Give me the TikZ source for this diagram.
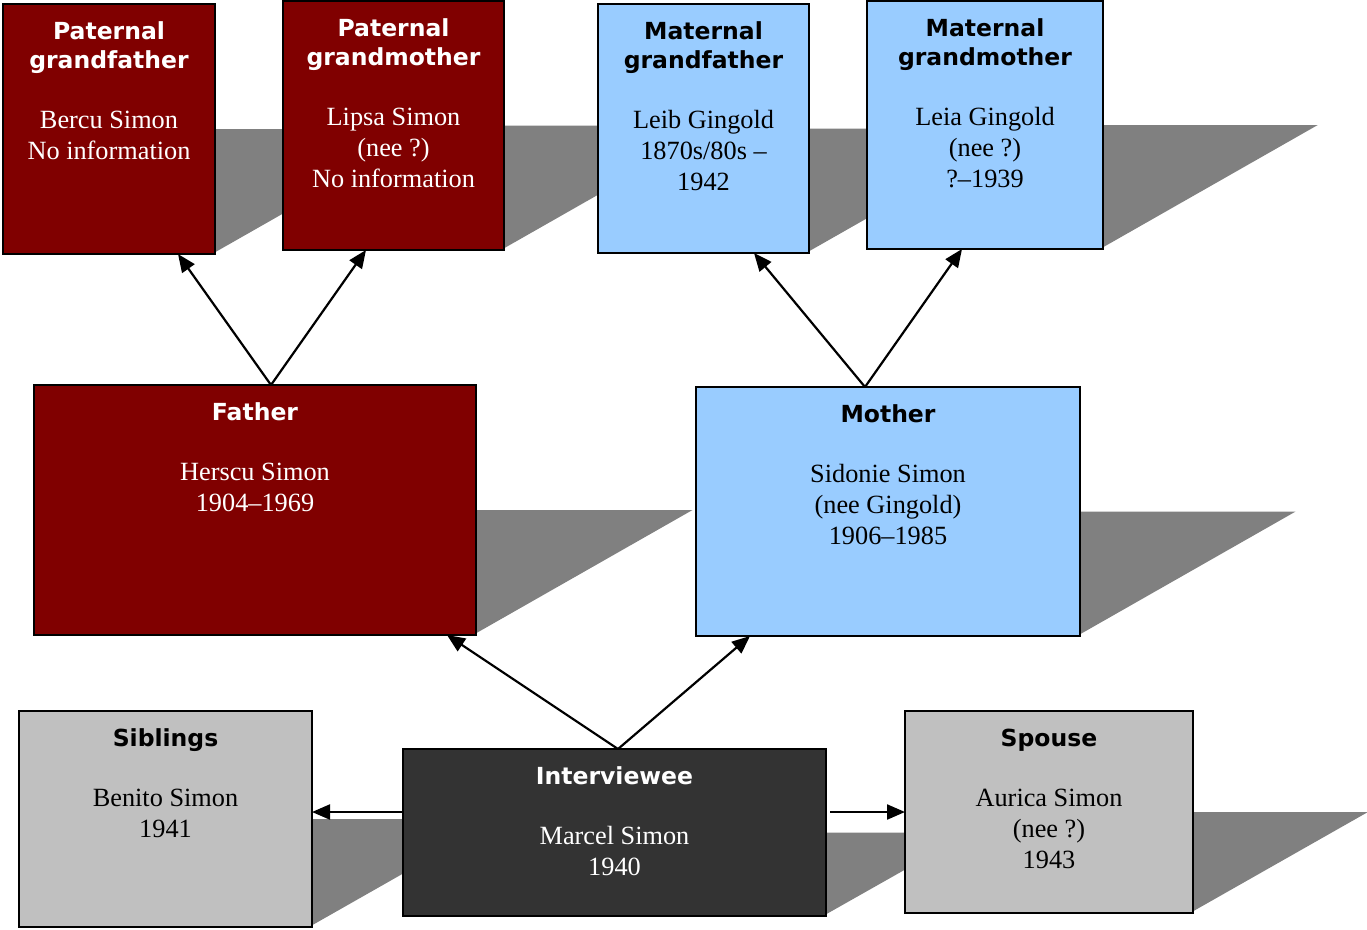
\documentclass[tikz,border=0pt]{standalone}
\usepackage{fontspec}
\setmainfont{Liberation Serif}
\newfontfamily\titlefont{DejaVu Sans}
\usetikzlibrary{calc,arrows.meta}
\definecolor{maroonc}{HTML}{800000}
\definecolor{bluec}{HTML}{99CCFF}
\definecolor{grayc}{HTML}{C0C0C0}
\definecolor{darkc}{HTML}{333333}
\definecolor{shadowc}{HTML}{808080}
\newcommand\boxshadow[1]{%
  \path let \p1=(#1.east), \p2=(#1.south east) in
    [fill=shadowc] (\x1-3pt,\y1) -- (\x1+1.732*\y1-1.732*\y2,\y1) -- (\x2-3pt,\y2) -- cycle;}
\newcommand\famlines[4]{%
  \foreach \tl [count=\i] in {#3} {
    \node[ttl, text=#2, anchor=base] (#1-t\i) at ($(#1.north)+(0,{35.5+29*\i-29})$) {\tl};
    \xdef\ntl{\i}
  }
  \foreach \bl [count=\j] in {#4} {
    \node[bdy, text=#2, anchor=base] (#1-b\j) at ($(#1.north)+(0,{95+29*\ntl-29+31*\j-31})$) {\bl};
  }
}
\begin{document}
\begin{tikzpicture}[x=1pt,y=-1pt,
  box/.style={rectangle, draw=black, line width=2pt, inner sep=0pt, outer sep=0pt},
  ttl/.style={font=\titlefont\bfseries\fontsize{23.5}{29}\selectfont, inner sep=0pt},
  bdy/.style={font=\fontsize{26.3}{31}\selectfont, inner sep=0pt},
  conn/.style={line width=2.2pt, -{Triangle[length=18pt,width=15pt]}}]
\useasboundingbox (0,0) rectangle (1367,929);
% boxes (invisible first pass for positions)
\path
  (109,129) node[box,draw=none,minimum width=212pt,minimum height=250pt] (pgf) {}
  (393.5,125.5) node[box,draw=none,minimum width=221pt,minimum height=249pt] (pgm) {}
  (703.5,128.5) node[box,draw=none,minimum width=211pt,minimum height=249pt] (mgf) {}
  (985,125) node[box,draw=none,minimum width=236pt,minimum height=248pt] (mgm) {}
  (255,510) node[box,draw=none,minimum width=442pt,minimum height=250pt] (fa) {}
  (888,511.5) node[box,draw=none,minimum width=384pt,minimum height=249pt] (mo) {}
  (165.5,819) node[box,draw=none,minimum width=293pt,minimum height=216pt] (sib) {}
  (614.5,832.5) node[box,draw=none,minimum width=423pt,minimum height=167pt] (iv) {}
  (1049,812) node[box,draw=none,minimum width=288pt,minimum height=202pt] (sp) {};
% shadows
\foreach \bx in {pgf,pgm,mgf,mgm,fa,mo,sib,iv,sp} {\boxshadow{\bx}}
% visible boxes
\node[box,fill=maroonc,minimum width=212pt,minimum height=250pt] (pgfb) at (pgf) {};
\node[box,fill=maroonc,minimum width=221pt,minimum height=249pt] (pgmb) at (pgm) {};
\node[box,fill=bluec,minimum width=211pt,minimum height=249pt] (mgfb) at (mgf) {};
\node[box,fill=bluec,minimum width=236pt,minimum height=248pt] (mgmb) at (mgm) {};
\node[box,fill=maroonc,minimum width=442pt,minimum height=250pt] (fab) at (fa) {};
\node[box,fill=bluec,minimum width=384pt,minimum height=249pt] (mob) at (mo) {};
\node[box,fill=grayc,minimum width=293pt,minimum height=216pt] (sibb) at (sib) {};
\node[box,fill=darkc,minimum width=423pt,minimum height=167pt] (ivb) at (iv) {};
\node[box,fill=grayc,minimum width=288pt,minimum height=202pt] (spb) at (sp) {};
% texts
\famlines{pgf}{white}{Paternal,grandfather}{Bercu Simon,No information}
\famlines{pgm}{white}{Paternal,grandmother}{Lipsa Simon,(nee ?),No information}
\famlines{mgf}{black}{Maternal,grandfather}{Leib Gingold,1870s/80s --,1942}
\famlines{mgm}{black}{Maternal,grandmother}{Leia Gingold,(nee ?),?--1939}
\famlines{fa}{white}{Father}{Herscu Simon,1904--1969}
\famlines{mo}{black}{Mother}{Sidonie Simon,(nee Gingold),1906--1985}
\famlines{sib}{black}{Siblings}{Benito Simon,1941}
\famlines{iv}{white}{Interviewee}{Marcel Simon,1940}
\famlines{sp}{black}{Spouse}{Aurica Simon,(nee ?),1943}
% connectors
\draw[conn] ([xshift=16pt]fa.north) -- ([xshift=69pt]pgf.south);
\draw[conn] ([xshift=16pt]fa.north) -- ([xshift=-27.5pt]pgm.south);
\draw[conn] ([xshift=-23pt]mo.north) -- ([xshift=50.5pt]mgf.south);
\draw[conn] ([xshift=-23pt]mo.north) -- ([xshift=-23pt]mgm.south);
\draw[conn] ([xshift=3.5pt]iv.north) -- ([xshift=192pt]fa.south);
\draw[conn] ([xshift=3.5pt]iv.north) -- ([xshift=-138pt]mo.south);
\draw[conn] ([yshift=20.5pt]iv.west) -- ([yshift=7pt]sib.east);
\draw[conn] ([xshift=4pt,yshift=20.5pt]iv.east) -- (sp.west);
\end{tikzpicture}
\end{document}
